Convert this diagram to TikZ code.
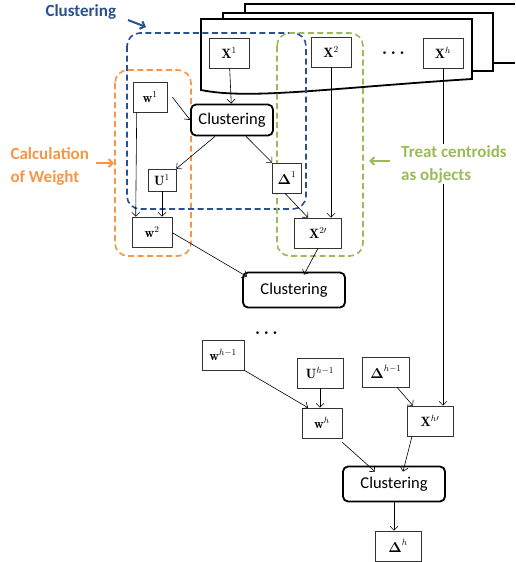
\documentclass[tikz,border=0pt]{standalone}
\usepackage{amsmath}
\usepackage{amssymb}
\usepackage{fontspec}
\setsansfont{Carlito}
\usetikzlibrary{arrows.meta}
\definecolor{clblue}{RGB}{42,80,145}
\definecolor{wtorange}{RGB}{247,150,70}
\definecolor{trgreen}{RGB}{155,187,89}
\newcommand{\bX}{\mathbf{X}}
\newcommand{\bw}{\mathbf{w}}
\newcommand{\bU}{\mathbf{U}}
\newcommand{\bD}{\boldsymbol{\Delta}}

\begin{document}
\begin{tikzpicture}[x=1pt,y=-1pt,>={Straight Barb[length=4pt,width=8pt]},
  var/.style={draw=black!80,fill=white,line width=0.6pt,minimum width=40pt,minimum height=30pt,inner sep=0pt,font=\fontsize{13.5}{14}\selectfont},
  alg/.style={draw,fill=white,line width=1.8pt,rounded corners=5pt,minimum width=102pt,minimum height=35pt,inner sep=0pt,font=\sffamily\fontsize{16.5}{18}\selectfont},
  group/.style={line width=1.6pt,rounded corners=13pt,dash pattern=on 6pt off 3.5pt},
  tag/.style={font=\sffamily\bfseries\fontsize{17}{23}\selectfont,align=left,anchor=west},
  page/.style={line width=1.8pt}]
  \useasboundingbox (0,0) rectangle (515,562);

  % stacked data sets
  \draw[page] (245,13) |- (515,4);
  \draw[page] (493,63) -- (515,63);
  \draw[page,fill=white] (223,19) |- (493,13) |- (472,71);
  \draw[page,fill=white] (472,79) .. controls (330,88) and (250,100) .. (201,90) -- (201,19) -- (472,19) -- cycle;

  % groups
  \draw[group,wtorange] (115,70) rectangle (191,256);
  \draw[group,clblue] (127,33) rectangle (306,209);
  \draw[group,trgreen] (277,33) rectangle (363,256);

  \node[var] (x1) at (229,53) {$\bX^1$};
  \node[var] (x2) at (331,52) {$\bX^2$};
  \node[font=\fontsize{16}{16}\selectfont] (dots1) at (395,53) {$\boldsymbol{\cdots}$};
  \node[var] (xh) at (443,53) {$\bX^h$};
  \node[var,minimum width=34pt] (w1) at (150,97) {$\bw^1$};
  \node[alg,minimum width=82pt,minimum height=31pt] (cl1) at (232,120) {Clustering};
  \node[var,minimum width=28pt,minimum height=22pt] (u1) at (162,180) {$\bU^1$};
  \node[var,minimum width=29pt] (d1) at (287,178) {$\bD^1$};
  \node[var] (w2) at (152,232) {$\bw^2$};
  \node[var,minimum width=47pt] (x2p) at (318,233) {$\bX^{2\prime}$};
  \node[alg] (cl2) at (294,290) {Clustering};
  \node[font=\fontsize{16}{16}\selectfont] (dots2) at (268,333) {$\boldsymbol{\cdots}$};
  \node[var,minimum width=42pt] (wh1) at (223,355) {$\bw^{h-1}$};
  \node[var,minimum width=46pt] (uh1) at (320,373) {$\bU^{h-1}$};
  \node[var,minimum width=47pt] (dh1) at (386,372) {$\bD^{h-1}$};
  \node[var] (wh) at (322,423) {$\bw^h$};
  \node[var,minimum width=46pt] (xhp) at (430,421) {$\bX^{h\prime}$};
  \node[alg] (cl3) at (394,484) {Clustering};
  \node[var,minimum width=46pt] (dh) at (398,546) {$\bD^h$};

  \path[->,line width=0.6pt]
    (x1) edge (cl1)
    ([xshift=5pt]w1.east) edge (cl1.west)
    ([xshift=-17pt]cl1.south) edge (u1.north east)
    ([xshift=14pt]cl1.south) edge (d1.north west)
    ([xshift=4pt]w1.south west) edge ([xshift=4pt]w2.north west)
    (u1.south) edge (u1.south |- w2.north)
    ([xshift=-2pt]d1.south) edge ([xshift=-10pt]x2p.north)
    (x2.south) edge (x2.south |- x2p.north)
    ([yshift=-16pt]w2.north east) edge ([xshift=-47pt,yshift=-5pt]cl2.north)
    (x2p.south) edge ([xshift=10pt,yshift=-3pt]cl2.north)
    (xh.south) edge (xh.south |- xhp.north)
    (wh1.south east) edge ([xshift=-14pt]wh.north)
    (uh1.south) edge (uh1.south |- wh.north)
    ([xshift=11pt]dh1.south) edge ([xshift=-17pt]xhp.north)
    ([yshift=-4pt]wh.south east) edge ([xshift=-19pt,yshift=-6pt]cl3.north)
    ([xshift=-18pt]xhp.south) edge ([xshift=9pt,yshift=-6pt]cl3.north)
    (cl3.south) edge (cl3.south |- dh.north);

  % group labels
  \node[tag,clblue] (tclus) at (42,12) {Clustering};
  \node[tag,wtorange] (tweight) at (7,166) {Calculation\\of Weight};
  \node[tag,trgreen,fill=white,inner sep=1pt] (tcent) at (400,164) {Treat centroids\\as objects};
  \draw[->,clblue,line width=2pt] (128,20) coordinate (ca) -- (146,27);
  \draw[->,wtorange,line width=2pt] (96,163) coordinate (cb) -- (114,163);
  \draw[->,trgreen,line width=2pt] (390,161) coordinate (cc) -- (369,161);
\end{tikzpicture}
\end{document}
